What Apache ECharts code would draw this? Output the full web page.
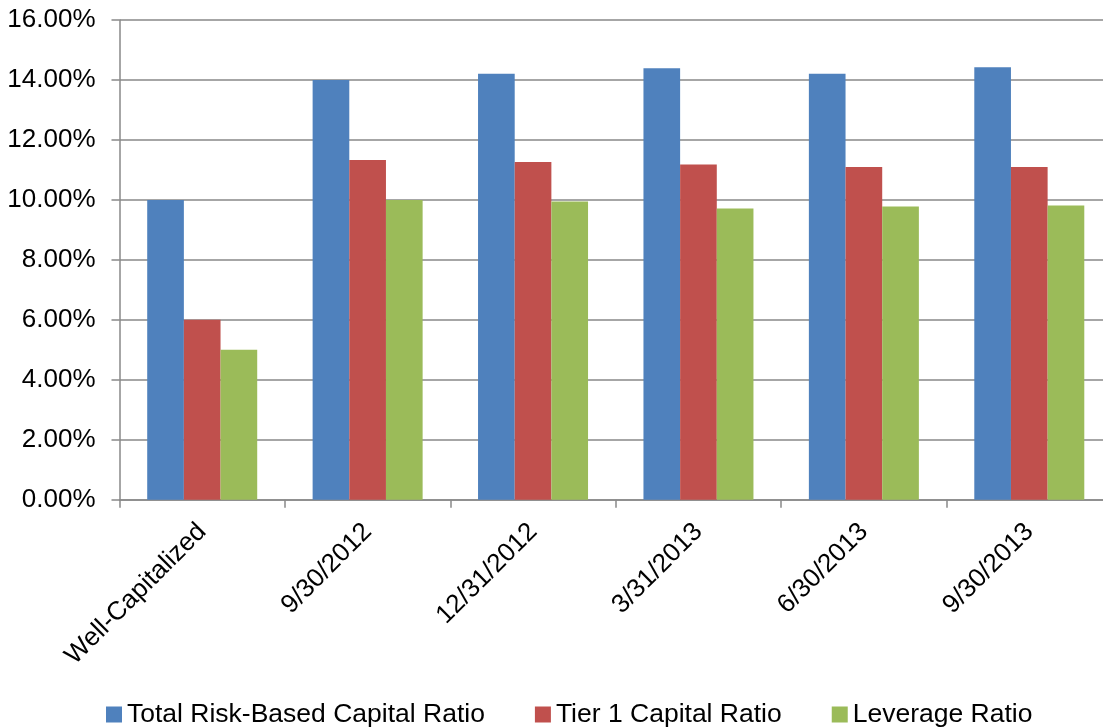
<!DOCTYPE html>
<html>
<head>
<meta charset="utf-8">
<script src="https://cdn.jsdelivr.net/npm/echarts@6/dist/echarts.min.js"></script>
<style>
  html, body { margin: 0; padding: 0; background: #fff; overflow: hidden; }
  /* canvas is a little wider than the page so the last category runs off the right edge */
  #chart { width: 1112px; height: 727px; }
</style>
</head>
<body>
<div id="chart"></div>
<script>
// Capital ratios by period (percent)
const categories = ['Well-Capitalized', '9/30/2012', '12/31/2012', '3/31/2013', '6/30/2013', '9/30/2013'];
const totalRiskBased = [10.00, 14.00, 14.21, 14.39, 14.21, 14.42];
const tier1 = [6.00, 11.33, 11.26, 11.18, 11.10, 11.10];
const leverage = [5.00, 10.00, 9.95, 9.71, 9.78, 9.81];
const seriesNames = ['Total Risk-Based Capital Ratio', 'Tier 1 Capital Ratio', 'Leverage Ratio'];
const yTicks = { min: 0, max: 16, interval: 2 };

const FONT = '"Liberation Sans", Arial, sans-serif';
const AXIS_GRAY = '#898989';

const chart = echarts.init(document.getElementById('chart'), null, { renderer: 'canvas' });

function bar(name, data, color) {
  return {
    name: name,
    type: 'bar',
    data: data,
    barGap: '0%',
    barCategoryGap: '33.5%',
    itemStyle: { color: color },
    emphasis: { disabled: true }
  };
}

chart.setOption({
  animation: false,
  backgroundColor: '#ffffff',
  color: ['#4F81BD', '#C0504D', '#9BBB59'],
  grid: { left: 119.5, top: 20, right: 0, bottom: 227.3, containLabel: false },
  legend: {
    data: seriesNames,
    left: 106,
    top: 701,
    padding: 0,
    itemWidth: 16,
    itemHeight: 16,
    itemGap: 50,
    icon: 'rect',
    textStyle: { fontFamily: FONT, fontSize: 26.5, color: '#000' }
  },
  xAxis: {
    type: 'category',
    data: categories,
    boundaryGap: true,
    axisLine: { lineStyle: { color: AXIS_GRAY, width: 1.5 } },
    axisTick: { show: true, length: 8, lineStyle: { color: AXIS_GRAY, width: 1.5 } },
    axisLabel: {
      rotate: 45,
      interval: 0,
      margin: 28,
      fontFamily: FONT,
      fontSize: 26,
      color: '#000'
    }
  },
  yAxis: {
    type: 'value',
    min: yTicks.min,
    max: yTicks.max,
    interval: yTicks.interval,
    axisLine: { show: true, lineStyle: { color: AXIS_GRAY, width: 1.5 } },
    axisTick: { show: true, length: 8, lineStyle: { color: AXIS_GRAY, width: 1.5 } },
    splitLine: { show: true, lineStyle: { color: AXIS_GRAY, width: 1.5 } },
    axisLabel: {
      margin: 24,
      fontFamily: FONT,
      fontSize: 26,
      color: '#000',
      formatter: v => v.toFixed(2) + '%'
    }
  },
  series: [
    bar(seriesNames[0], totalRiskBased, '#4F81BD'),
    bar(seriesNames[1], tier1, '#C0504D'),
    bar(seriesNames[2], leverage, '#9BBB59')
  ]
});
</script>
</body>
</html>
